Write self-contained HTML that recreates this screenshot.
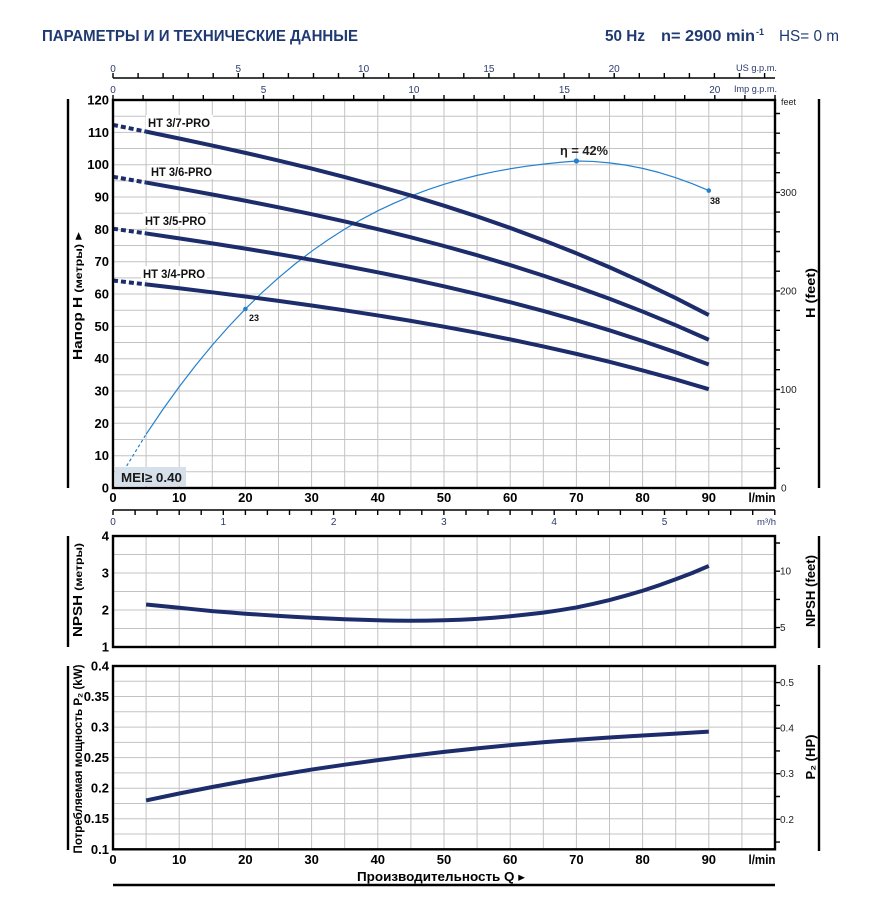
<!DOCTYPE html>
<html><head><meta charset="utf-8"><style>
html,body{margin:0;padding:0;background:#fff;}
svg{display:block;font-family:"Liberation Sans","DejaVu Sans",sans-serif;}
</style></head><body>
<svg width="882" height="903" viewBox="0 0 882 903" xmlns="http://www.w3.org/2000/svg">
<rect width="882" height="903" fill="#fff"/>

<!-- Header -->
<text x="42" y="41" font-size="16" font-weight="bold" fill="#1f3a72" textLength="316" lengthAdjust="spacingAndGlyphs">ПАРАМЕТРЫ И И ТЕХНИЧЕСКИЕ ДАННЫЕ</text>
<text x="605" y="41" font-size="16" font-weight="bold" fill="#1f3a72" textLength="40" lengthAdjust="spacingAndGlyphs">50 Hz</text>
<text x="661" y="41" font-size="16" font-weight="bold" fill="#1f3a72" textLength="94" lengthAdjust="spacingAndGlyphs">n= 2900 min</text>
<text x="756" y="35" font-size="9" font-weight="bold" fill="#1f3a72">-1</text>
<text x="779" y="41" font-size="16" fill="#1f3a72" textLength="60" lengthAdjust="spacingAndGlyphs">HS= 0 m</text>

<!-- Grids -->
<g stroke="#c3c3c3" stroke-width="1" fill="none">
<path d="M146.1 100V488M179.2 100V488M212.3 100V488M245.4 100V488M278.5 100V488M311.6 100V488M344.7 100V488M377.8 100V488M410.9 100V488M444 100V488M477.1 100V488M510.2 100V488M543.3 100V488M576.4 100V488M609.5 100V488M642.6 100V488M675.7 100V488M708.8 100V488M741.9 100V488"/>
<path d="M113 471.8H775M113 455.7H775M113 439.5H775M113 423.3H775M113 407.2H775M113 391H775M113 374.8H775M113 358.7H775M113 342.5H775M113 326.4H775M113 310.2H775M113 294H775M113 277.9H775M113 261.7H775M113 245.5H775M113 229.4H775M113 213.2H775M113 197H775M113 180.9H775M113 164.7H775M113 148.5H775M113 132.4H775M113 116.2H775"/>
<path d="M146.1 536V647M179.2 536V647M212.3 536V647M245.4 536V647M278.5 536V647M311.6 536V647M344.7 536V647M377.8 536V647M410.9 536V647M444 536V647M477.1 536V647M510.2 536V647M543.3 536V647M576.4 536V647M609.5 536V647M642.6 536V647M675.7 536V647M708.8 536V647M741.9 536V647"/>
<path d="M113 554.5H775M113 573H775M113 591.5H775M113 610H775M113 628.5H775"/>
<path d="M146.1 666V849.3M179.2 666V849.3M212.3 666V849.3M245.4 666V849.3M278.5 666V849.3M311.6 666V849.3M344.7 666V849.3M377.8 666V849.3M410.9 666V849.3M444 666V849.3M477.1 666V849.3M510.2 666V849.3M543.3 666V849.3M576.4 666V849.3M609.5 666V849.3M642.6 666V849.3M675.7 666V849.3M708.8 666V849.3M741.9 666V849.3"/>
<path d="M113 834H775M113 818.75H775M113 803.5H775M113 788.2H775M113 772.9H775M113 757.65H775M113 742.4H775M113 727.1H775M113 711.8H775M113 696.55H775M113 681.3H775"/>
</g>

<!-- Curve labels backgrounds + text -->
<rect x="146" y="115" width="67" height="14" fill="#fff"/>
<rect x="149" y="165" width="65" height="14" fill="#fff"/>
<rect x="143" y="213" width="65" height="14" fill="#fff"/>
<rect x="141" y="266" width="66" height="14" fill="#fff"/>
<g font-size="12" font-weight="bold" fill="#111">
<text x="148" y="127" textLength="62" lengthAdjust="spacingAndGlyphs">HT 3/7-PRO</text>
<text x="151" y="176" textLength="61" lengthAdjust="spacingAndGlyphs">HT 3/6-PRO</text>
<text x="145" y="225" textLength="61" lengthAdjust="spacingAndGlyphs">HT 3/5-PRO</text>
<text x="143" y="278" textLength="62" lengthAdjust="spacingAndGlyphs">HT 3/4-PRO</text>
</g>

<!-- Efficiency curve -->
<path d="M118 480L146.1 434.3" stroke="#2481cf" stroke-width="1.2" stroke-dasharray="3 2.5" fill="none"/>
<path transform="translate(113,488) scale(6.62,-7.786)" vector-effect="non-scaling-stroke" stroke="#2481cf" stroke-width="1.2" fill="none" stroke-linejoin="round"
 d="M5 6.9L7.5 10.05L10 13L12.5 15.77L15 18.35L17.5 20.76L20 23L22.5 25.08L25 27L27.5 28.77L30 30.4L32.5 31.89L35 33.25L37.5 34.48L40 35.6L42.5 36.6L45 37.5L47.5 38.3L50 39L52.5 39.61L55 40.15L57.5 40.61L60 41L62.5 41.33L65 41.6L67.5 41.82L70 42L72.5 41.94L75 41.76L77.5 41.47L80 41.05L82.5 40.52L85 39.86L87.5 39.09L90 38.2"/>
<circle cx="245.4" cy="309" r="2.3" fill="#2481cf"/>
<circle cx="576.4" cy="161" r="2.6" fill="#2481cf"/>
<circle cx="708.8" cy="190.6" r="2.3" fill="#2481cf"/>
<text x="249" y="321" font-size="9" font-weight="bold" fill="#111">23</text>
<text x="710" y="204" font-size="9" font-weight="bold" fill="#111">38</text>
<text x="560" y="155" font-size="12.5" font-weight="bold" fill="#222" textLength="48" lengthAdjust="spacingAndGlyphs">η = 42%</text>

<!-- H curves dashed parts -->
<g stroke="#1d2d6c" stroke-width="4" stroke-dasharray="5 3" fill="none">
<path d="M113 124.9L146.1 131.6"/>
<path d="M113 176.8L146.1 182.5"/>
<path d="M113 228.7L146.1 233.4"/>
<path d="M113 280.5L146.1 284.4"/>
</g>
<!-- H curves solid -->
<g stroke="#1d2d6c" stroke-width="4" fill="none" stroke-linejoin="round">
<path transform="translate(113,488) scale(6.62,-3.233)" vector-effect="non-scaling-stroke" d="M5 110.23L10 108.11L15 105.92L20 103.66L25 101.29L30 98.8L35 96.18L40 93.41L45 90.46L50 87.33L55 84L60 80.44L65 76.65L70 72.6L75 68.28L80 63.67L85 58.75L90 53.5"/>
<path transform="translate(113,488) scale(6.62,-2.7711)" vector-effect="non-scaling-stroke" d="M5 110.23L10 108.11L15 105.92L20 103.66L25 101.29L30 98.8L35 96.18L40 93.41L45 90.46L50 87.33L55 84L60 80.44L65 76.65L70 72.6L75 68.28L80 63.67L85 58.75L90 53.5"/>
<path transform="translate(113,488) scale(6.62,-2.3093)" vector-effect="non-scaling-stroke" d="M5 110.23L10 108.11L15 105.92L20 103.66L25 101.29L30 98.8L35 96.18L40 93.41L45 90.46L50 87.33L55 84L60 80.44L65 76.65L70 72.6L75 68.28L80 63.67L85 58.75L90 53.5"/>
<path transform="translate(113,488) scale(6.62,-1.8474)" vector-effect="non-scaling-stroke" d="M5 110.23L10 108.11L15 105.92L20 103.66L25 101.29L30 98.8L35 96.18L40 93.41L45 90.46L50 87.33L55 84L60 80.44L65 76.65L70 72.6L75 68.28L80 63.67L85 58.75L90 53.5"/>
<!-- NPSH -->
<path transform="translate(113,684) scale(6.62,-37)" vector-effect="non-scaling-stroke" d="M5 2.15L7.5 2.105L10 2.06L12.5 2.015L15 1.97L17.5 1.935L20 1.9L22.5 1.87L25 1.84L27.5 1.815L30 1.79L32.5 1.77L35 1.75L37.5 1.735L40 1.722L42.5 1.713L45 1.71L47.5 1.713L50 1.722L52.5 1.738L55 1.76L57.5 1.792L60 1.83L62.5 1.877L65 1.93L67.5 1.995L70 2.07L72.5 2.163L75 2.27L77.5 2.39L80 2.52L82.5 2.67L85 2.83L87.5 3.0L90 3.19"/>
<!-- Power -->
<path transform="translate(113,910.4) scale(6.62,-611)" vector-effect="non-scaling-stroke" d="M5 0.18L10 0.1913L15 0.202L20 0.212L25 0.2215L30 0.2305L35 0.2385L40 0.246L45 0.253L50 0.2595L55 0.2652L60 0.2705L65 0.2752L70 0.2793L75 0.283L80 0.2862L85 0.2893L90 0.2925"/>
</g>

<!-- MEI box -->
<rect x="115" y="467" width="71" height="19" fill="#d6e0ea"/>
<text x="121" y="482" font-size="13" font-weight="bold" fill="#1a1a1a" textLength="61" lengthAdjust="spacingAndGlyphs">MEI≥ 0.40</text>

<!-- Frames -->
<g fill="none" stroke="#000" stroke-width="2.4">
<rect x="113" y="100" width="662" height="388"/>
<rect x="113" y="536" width="662" height="111"/>
<rect x="113" y="666" width="662" height="183.3"/>
<path d="M68 99V488M819 99V488M68 536V647M819 536V648M68 666V850M819 665V851M113 885H775"/>
</g>

<!-- Axes lines & ticks -->
<g stroke="#000" stroke-width="1.4" fill="none">
<path d="M113 78H775M113 510H775"/>
<path d="M113 73V78M138.1 73V78M163.1 73V78M188.2 73V78M213.2 73V78M238.3 73V78M263.4 73V78M288.4 73V78M313.5 73V78M338.5 73V78M363.6 73V78M388.7 73V78M413.7 73V78M438.8 73V78M463.8 73V78M488.9 73V78M514 73V78M539 73V78M564.1 73V78M589.1 73V78M614.2 73V78M639.3 73V78M664.3 73V78M689.4 73V78M714.4 73V78M739.5 73V78M764.6 73V78"/>
<path d="M113 95V100M143.1 95V100M173.2 95V100M203.3 95V100M233.4 95V100M263.5 95V100M293.5 95V100M323.6 95V100M353.7 95V100M383.8 95V100M413.9 95V100M444 95V100M474.1 95V100M504.2 95V100M534.3 95V100M564.4 95V100M594.4 95V100M624.5 95V100M654.6 95V100M684.7 95V100M714.8 95V100M744.9 95V100M775 95V100"/>
<path d="M113 510V515M135.1 510V515M157.1 510V515M179.2 510V515M201.2 510V515M223.3 510V515M245.4 510V515M267.4 510V515M289.5 510V515M311.5 510V515M333.6 510V515M355.7 510V515M377.7 510V515M399.8 510V515M421.8 510V515M443.9 510V515M466 510V515M488 510V515M510.1 510V515M532.1 510V515M554.2 510V515M576.3 510V515M598.3 510V515M620.4 510V515M642.4 510V515M664.5 510V515M686.6 510V515M708.6 510V515M730.7 510V515M752.7 510V515M774.8 510V515"/>
<path d="M775 468.3H780M775 448.6H780M775 428.9H780M775 409.2H780M775 389.5H780M775 369.7H780M775 350H780M775 330.3H780M775 310.6H780M775 290.9H780M775 271.2H780M775 251.5H780M775 231.8H780M775 212.1H780M775 192.4H780M775 172.7H780M775 152.9H780M775 133.2H780M775 113.5H780"/>
<path d="M775 543H780M775 571.2H780M775 599.4H780M775 627.6H780"/>
<path d="M775 842.1H780M775 819.3H780M775 796.5H780M775 773.7H780M775 750.9H780M775 728.2H780M775 705.4H780M775 682.6H780"/>
</g>

<!-- Top axis labels -->
<g font-size="10" fill="#2c3a6e" text-anchor="middle">
<text x="113" y="72">0</text><text x="238.3" y="72">5</text><text x="363.6" y="72">10</text><text x="488.9" y="72">15</text><text x="614.2" y="72">20</text>
<text x="113" y="93">0</text><text x="263.5" y="93">5</text><text x="413.9" y="93">10</text><text x="564.4" y="93">15</text><text x="714.8" y="93">20</text>
<text x="113" y="525">0</text><text x="223.3" y="525">1</text><text x="333.6" y="525">2</text><text x="443.9" y="525">3</text><text x="554.2" y="525">4</text><text x="664.5" y="525">5</text>
</g>
<g font-size="9.5" fill="#2c3a6e" text-anchor="end">
<text x="777" y="71" textLength="41" lengthAdjust="spacingAndGlyphs">US g.p.m.</text>
<text x="777" y="92" textLength="43" lengthAdjust="spacingAndGlyphs">Imp g.p.m.</text>
<text x="776" y="525">m³/h</text>
</g>

<!-- Left labels -->
<g font-size="13" font-weight="bold" fill="#000" text-anchor="end">
<text x="109" y="104.5">120</text><text x="109" y="136.8">110</text><text x="109" y="169.2">100</text><text x="109" y="201.5">90</text><text x="109" y="233.8">80</text><text x="109" y="266.2">70</text><text x="109" y="298.5">60</text><text x="109" y="330.9">50</text><text x="109" y="363.2">40</text><text x="109" y="395.5">30</text><text x="109" y="427.8">20</text><text x="109" y="460.2">10</text><text x="109" y="492.5">0</text>
<text x="109" y="540.5">4</text><text x="109" y="577.5">3</text><text x="109" y="614.5">2</text><text x="109" y="651.5">1</text>
<text x="109" y="670.5">0.4</text><text x="109" y="701">0.35</text><text x="109" y="731.6">0.3</text><text x="109" y="762.1">0.25</text><text x="109" y="792.7">0.2</text><text x="109" y="823.2">0.15</text><text x="109" y="853.8">0.1</text>
</g>
<!-- Bottom labels -->
<g font-size="13" font-weight="bold" fill="#000" text-anchor="middle">
<text x="113" y="502">0</text><text x="179.2" y="502">10</text><text x="245.4" y="502">20</text><text x="311.6" y="502">30</text><text x="377.8" y="502">40</text><text x="444" y="502">50</text><text x="510.2" y="502">60</text><text x="576.4" y="502">70</text><text x="642.6" y="502">80</text><text x="708.8" y="502">90</text><text x="762" y="502" textLength="27" lengthAdjust="spacingAndGlyphs">l/min</text>
<text x="113" y="864">0</text><text x="179.2" y="864">10</text><text x="245.4" y="864">20</text><text x="311.6" y="864">30</text><text x="377.8" y="864">40</text><text x="444" y="864">50</text><text x="510.2" y="864">60</text><text x="576.4" y="864">70</text><text x="642.6" y="864">80</text><text x="708.8" y="864">90</text><text x="762" y="864" textLength="27" lengthAdjust="spacingAndGlyphs">l/min</text>
</g>
<text x="441" y="881" font-size="12.5" font-weight="bold" fill="#000" text-anchor="middle" textLength="168" lengthAdjust="spacingAndGlyphs">Производительность  Q ▸</text>

<!-- Right labels -->
<g font-size="10" fill="#222">
<text x="781" y="105" font-size="9">feet</text>
<text x="780" y="195.9">300</text><text x="780" y="294.4">200</text><text x="780" y="393">100</text><text x="781" y="491.5">0</text>
<text x="780" y="574.7">10</text><text x="780" y="631.1">5</text>
<text x="780" y="686.1">0.5</text><text x="780" y="731.7">0.4</text><text x="780" y="777.2">0.3</text><text x="780" y="822.8">0.2</text>
</g>

<!-- Vertical titles -->
<g font-weight="bold" fill="#000" text-anchor="middle">
<text transform="translate(82,296) rotate(-90)" font-size="13" textLength="128" lengthAdjust="spacingAndGlyphs">Напор  H  <tspan font-size="10.5">(метры)</tspan> ▸</text>
<text transform="translate(82,590) rotate(-90)" font-size="13" textLength="94" lengthAdjust="spacingAndGlyphs">NPSH <tspan font-size="10.5">(метры)</tspan></text>
<text transform="translate(82,759) rotate(-90)" font-size="12" textLength="189" lengthAdjust="spacingAndGlyphs">Потребляемая мощность  P₂ (kW)</text>
<text transform="translate(815,293) rotate(-90)" font-size="12.5" textLength="50" lengthAdjust="spacingAndGlyphs">H (feet)</text>
<text transform="translate(815,591) rotate(-90)" font-size="12.5" textLength="72" lengthAdjust="spacingAndGlyphs">NPSH (feet)</text>
<text transform="translate(815,757) rotate(-90)" font-size="12.5" textLength="45" lengthAdjust="spacingAndGlyphs">P₂ (HP)</text>
</g>
</svg>
</body></html>
